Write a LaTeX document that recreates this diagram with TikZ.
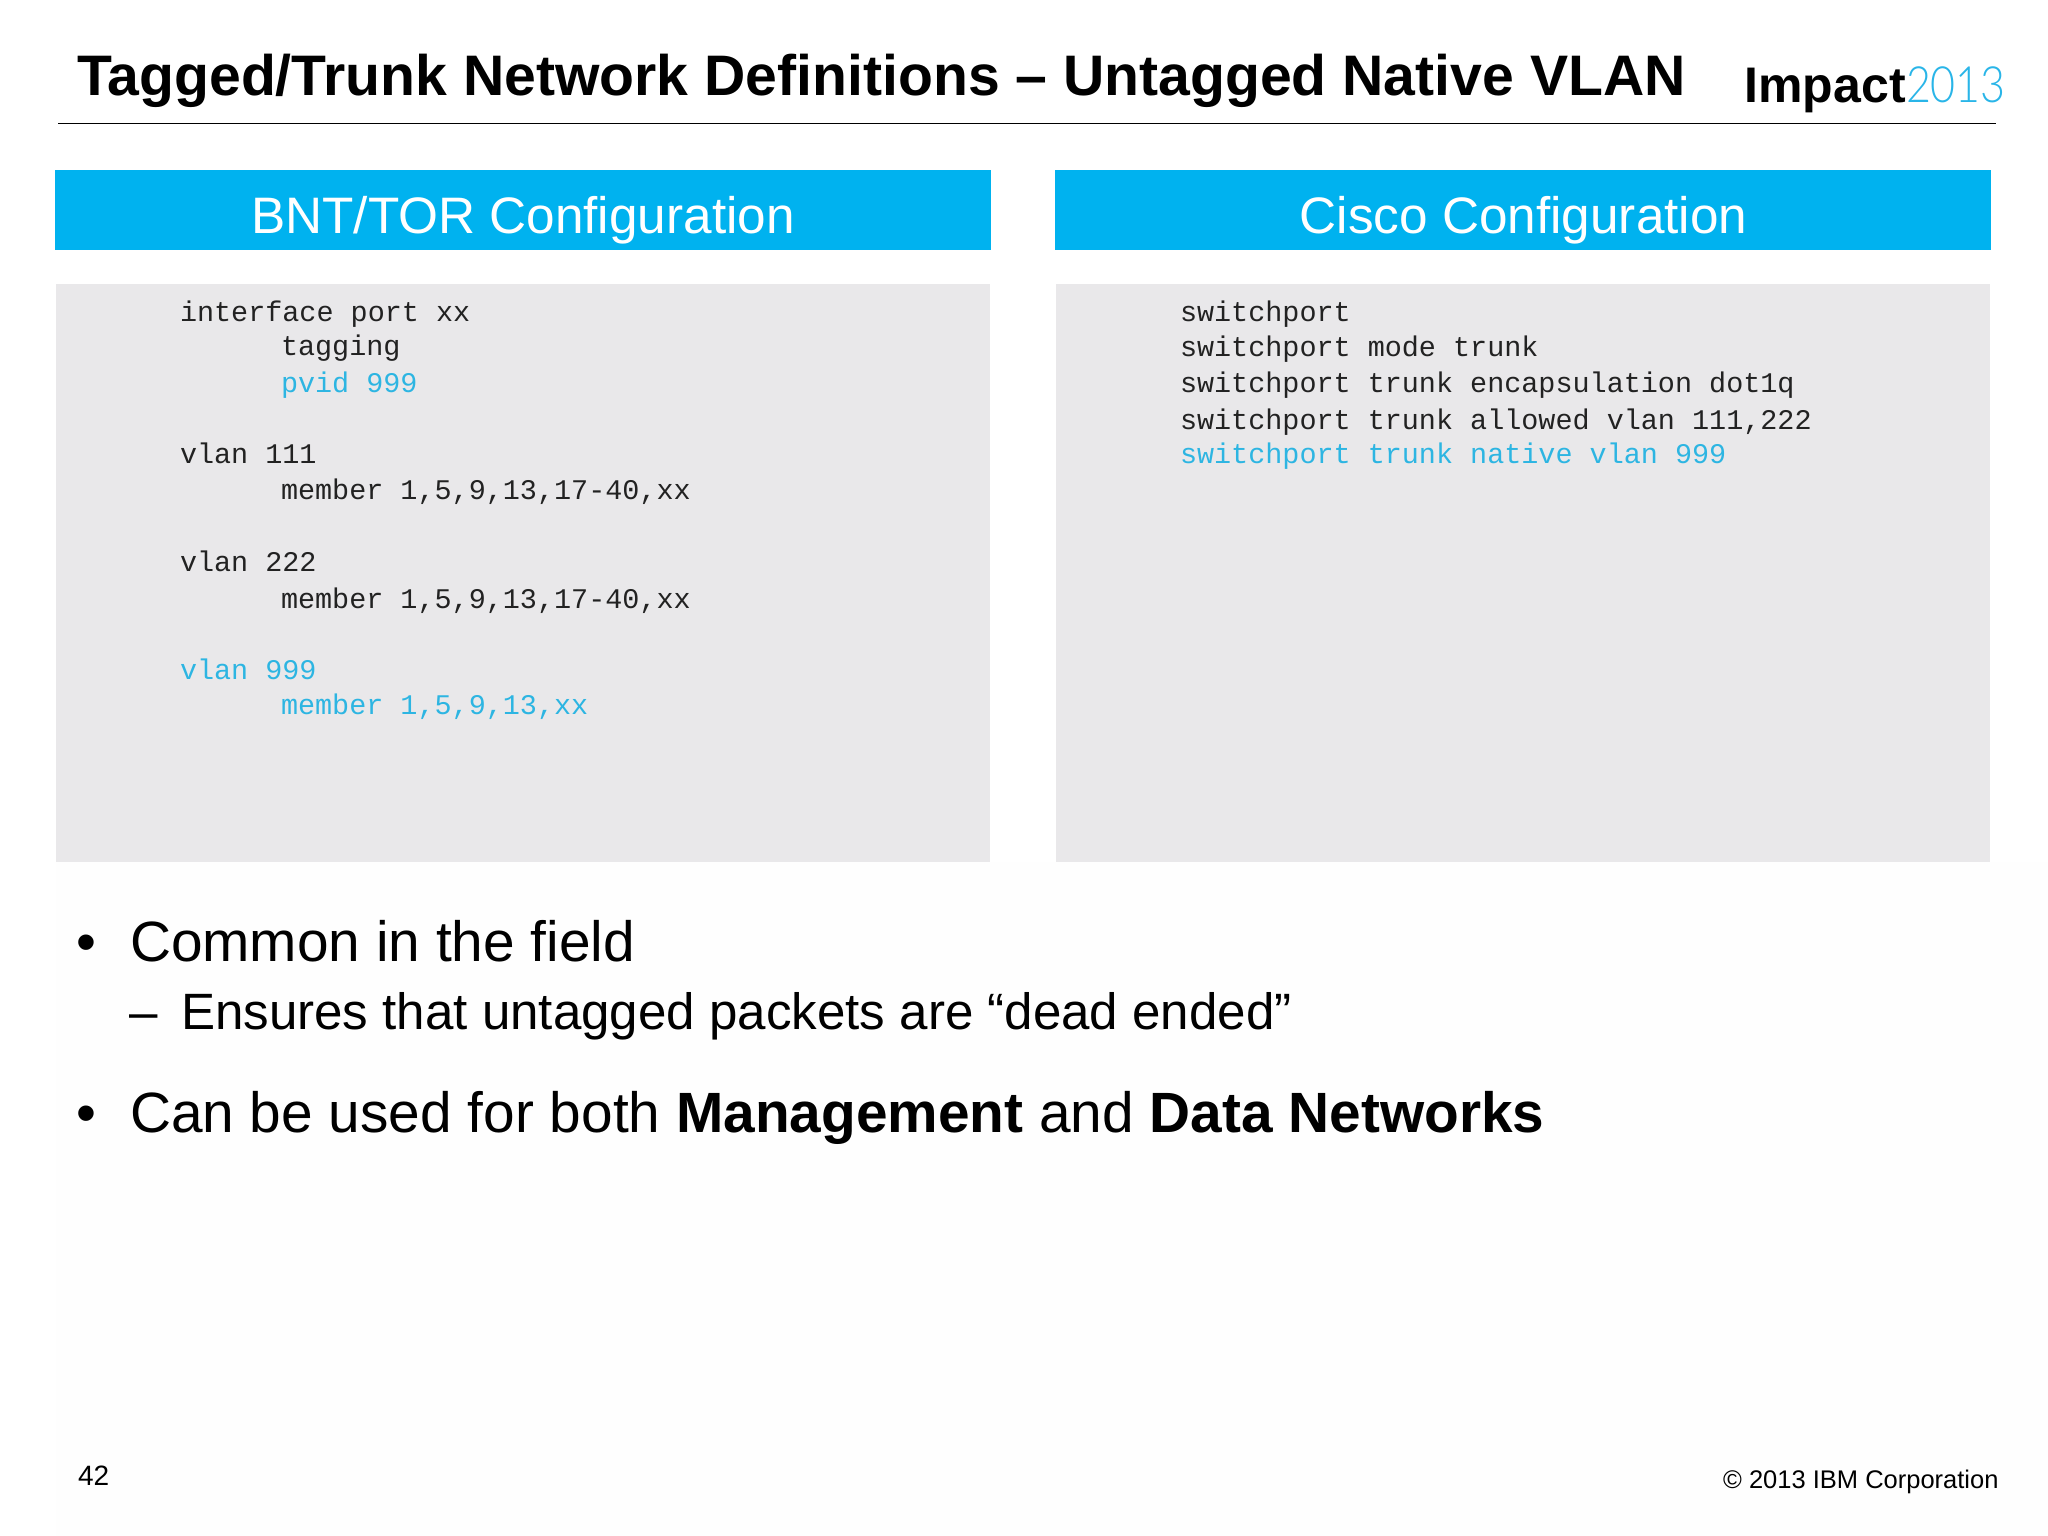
\documentclass[tikz,border=0pt]{standalone}
\usepackage{fontspec}
\setmainfont{Liberation Sans}
\setmonofont{Liberation Mono}
\newfontfamily\thinlogo{Lato Light}
\definecolor{barblue}{HTML}{00B2EF}
\definecolor{codeblue}{HTML}{2DB5E2}
\definecolor{logoblue}{HTML}{29B5E8}
\definecolor{panelgrey}{HTML}{E9E8EA}
\definecolor{softwhite}{HTML}{FEFEFE}
\definecolor{codeblack}{HTML}{222222}
\tikzset{
 x=1pt,y=-1pt,
 txt/.style={anchor=base west,inner sep=0pt,outer sep=0pt},
 titletext/.style={txt,font=\fontsize{57.14}{68}\selectfont\bfseries},
 bar/.style={fill=barblue,draw=none},
 panel/.style={fill=panelgrey,draw=none},
 headtext/.style={anchor=base,inner sep=0pt,text=white,font=\fontsize{51.3}{62}\selectfont},
 code/.style={txt,text=codeblack,font=\fontsize{28.45}{34}\selectfont\ttfamily},
 codehi/.style={code,text=codeblue},
 bigtext/.style={txt,font=\fontsize{56.8}{67}\selectfont},
 subtext/.style={txt,font=\fontsize{51.1}{60}\selectfont},
 foot/.style={txt,font=\fontsize{28}{32}\selectfont},
 footr/.style={txt,anchor=base east,font=\fontsize{25.5}{32}\selectfont},
}
\begin{document}
\begin{tikzpicture}
\useasboundingbox (0,0) rectangle (2048,1536);
\fill[white] (0,0) rectangle (2048,1536);
\fill[softwhite] (56,862) rectangle (2048,1536);
\node[titletext] (title) at (77,96) {Tagged/Trunk Network Definitions – Untagged Native VLAN};
\node[txt,font=\fontsize{50}{60}\selectfont\bfseries] (logoa) at (1744.5,103) {Impact};
\node[txt,text=logoblue,font=\fontsize{50}{60}\selectfont\thinlogo] (logob) at (1906,103) {\scalebox{0.86}[1]{2013}};
\draw[line width=1.6pt,black] (58,123.5) -- (1996,123.5);
\fill[bar] (55,170) rectangle (991,250);
\fill[bar] (1055,170) rectangle (1991,250);
\fill[panel] (56,284) rectangle (990,862);
\fill[panel] (1056,284) rectangle (1990,862);
\node[headtext] (heada) at (523,233.5) {BNT/TOR Configuration};
\node[headtext] (headb) at (1523.5,233.5) {Cisco Configuration};
\node[code] (a1) at (180,321) {interface port xx};
\node[code] (a2) at (281,355) {tagging};
\node[codehi] (a3) at (281,392) {pvid 999};
\node[code] (a4) at (180,463) {vlan 111};
\node[code] (a5) at (281,499) {member 1,5,9,13,17-40,xx};
\node[code] (a6) at (180,571) {vlan 222};
\node[code] (a7) at (281,608) {member 1,5,9,13,17-40,xx};
\node[codehi] (a8) at (180,679) {vlan 999};
\node[codehi] (a9) at (281,714) {member 1,5,9,13,xx};
\node[code] (b1) at (1180,321) {switchport};
\node[code] (b2) at (1180,356) {switchport mode trunk};
\node[code] (b3) at (1180,392) {switchport trunk encapsulation dot1q};
\node[code] (b4) at (1180,429) {switchport trunk allowed vlan 111,222};
\node[codehi] (b5) at (1180,463) {switchport trunk native vlan 999};
\node[bigtext] (d1) at (76,961) {•};
\node[bigtext] (t1) at (130,961) {Common in the field};
\node[subtext] (d2) at (129,1029) {–};
\node[subtext] (t2) at (181,1029) {Ensures that untagged packets are “dead ended”};
\node[bigtext] (d3) at (76,1132) {•};
\node[bigtext] (t3) at (130,1132) {Can be used for both \textbf{Management} and \textbf{Data Networks}};
\node[foot] (n) at (78,1485) {42};
\node[footr] (c) at (1998.5,1488) {© 2013 IBM Corporation};
\end{tikzpicture}
\end{document}
